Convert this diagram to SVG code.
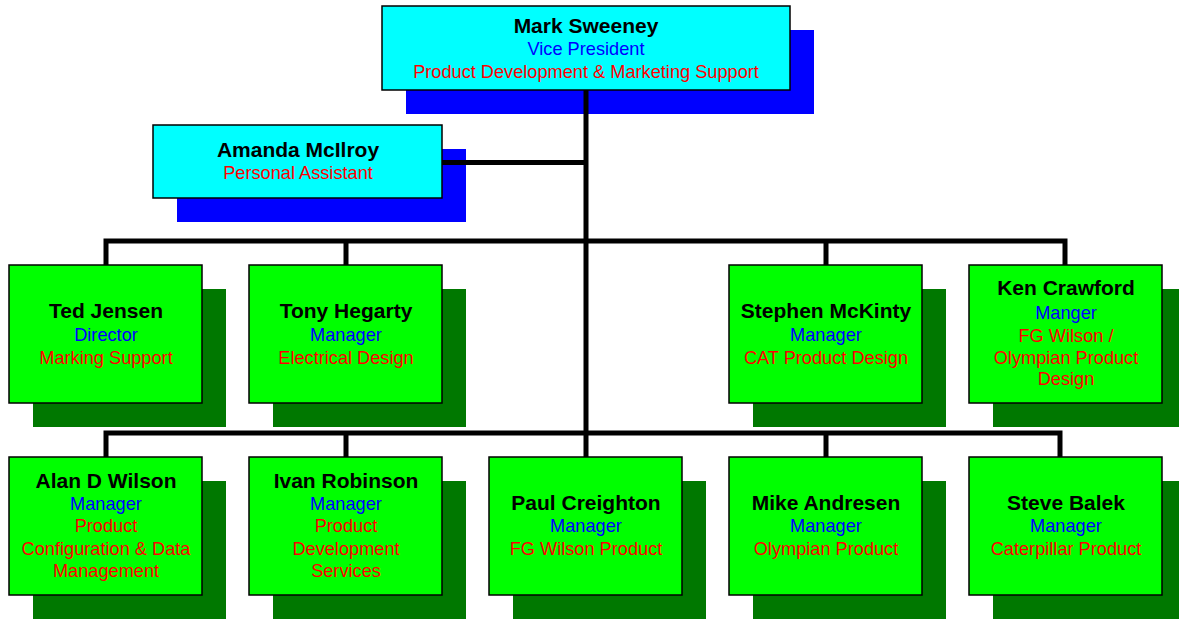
<svg xmlns="http://www.w3.org/2000/svg" width="1179" height="621" viewBox="0 0 1179 621">
<style>
.sb{fill:#0000ff}
.sg{fill:#007800}
.bc{fill:#00ffff;stroke:#000;stroke-width:1.5}
.bg{fill:#00ff00;stroke:#000;stroke-width:1.5}
text{font-family:"Liberation Sans",Arial,sans-serif;text-anchor:middle}
.n{font-size:21px;font-weight:bold;fill:#000}
.t{font-size:18.2px;fill:#0000ff}
.d{font-size:18.2px;fill:#ff0000}
.c{stroke:#000;stroke-width:5;fill:none;stroke-linejoin:miter}
</style>
<rect width="1179" height="621" fill="#fff"/>
<g id="mark">
<rect class="sb" x="406" y="30" width="408" height="84"/>
<rect class="bc" x="382" y="6" width="408" height="84"/>
<text class="n" x="586" y="33">Mark Sweeney</text>
<text class="t" x="586" y="55">Vice President</text>
<text class="d" x="586" y="78">Product Development &amp; Marketing Support</text>
</g>
<g id="amanda">
<rect class="sb" x="177" y="149" width="289" height="73"/>
<rect class="bc" x="153" y="125" width="289" height="73"/>
<text class="n" x="298" y="157">Amanda McIlroy</text>
<text class="d" x="298" y="179">Personal Assistant</text>
</g>
<g id="ted">
<rect class="sg" x="33" y="289" width="193" height="138"/>
<rect class="bg" x="9" y="265" width="193" height="138"/>
<text class="n" x="106" y="318">Ted Jensen</text>
<text class="t" x="106" y="341">Director</text>
<text class="d" x="106" y="364">Marking Support</text>
</g>
<g id="tony">
<rect class="sg" x="273" y="289" width="193" height="138"/>
<rect class="bg" x="249" y="265" width="193" height="138"/>
<text class="n" x="346" y="318">Tony Hegarty</text>
<text class="t" x="346" y="341">Manager</text>
<text class="d" x="346" y="364">Electrical Design</text>
</g>
<g id="stephen">
<rect class="sg" x="753" y="289" width="193" height="138"/>
<rect class="bg" x="729" y="265" width="193" height="138"/>
<text class="n" x="826" y="318">Stephen McKinty</text>
<text class="t" x="826" y="341">Manager</text>
<text class="d" x="826" y="364">CAT Product Design</text>
</g>
<g id="ken">
<rect class="sg" x="993" y="289" width="193" height="138"/>
<rect class="bg" x="969" y="265" width="193" height="138"/>
<text class="n" x="1066" y="295">Ken Crawford</text>
<text class="t" x="1066" y="319">Manger</text>
<text class="d" x="1066" y="342">FG Wilson /</text>
<text class="d" x="1066" y="364">Olympian Product</text>
<text class="d" x="1066" y="385">Design</text>
</g>
<g id="alan">
<rect class="sg" x="33" y="481" width="193" height="138"/>
<rect class="bg" x="9" y="457" width="193" height="138"/>
<text class="n" x="106" y="488">Alan D Wilson</text>
<text class="t" x="106" y="510">Manager</text>
<text class="d" x="106" y="532">Product</text>
<text class="d" x="106" y="555">Configuration &amp; Data</text>
<text class="d" x="106" y="577">Management</text>
</g>
<g id="ivan">
<rect class="sg" x="273" y="481" width="193" height="138"/>
<rect class="bg" x="249" y="457" width="193" height="138"/>
<text class="n" x="346" y="488">Ivan Robinson</text>
<text class="t" x="346" y="510">Manager</text>
<text class="d" x="346" y="532">Product</text>
<text class="d" x="346" y="555">Development</text>
<text class="d" x="346" y="577">Services</text>
</g>
<g id="paul">
<rect class="sg" x="513" y="481" width="193" height="138"/>
<rect class="bg" x="489" y="457" width="193" height="138"/>
<text class="n" x="586" y="510">Paul Creighton</text>
<text class="t" x="586" y="532">Manager</text>
<text class="d" x="586" y="555">FG Wilson Product</text>
</g>
<g id="mike">
<rect class="sg" x="753" y="481" width="193" height="138"/>
<rect class="bg" x="729" y="457" width="193" height="138"/>
<text class="n" x="826" y="510">Mike Andresen</text>
<text class="t" x="826" y="532">Manager</text>
<text class="d" x="826" y="555">Olympian Product</text>
</g>
<g id="steve">
<rect class="sg" x="993" y="481" width="193" height="138"/>
<rect class="bg" x="969" y="457" width="193" height="138"/>
<text class="n" x="1066" y="510">Steve Balek</text>
<text class="t" x="1066" y="532">Manager</text>
<text class="d" x="1066" y="555">Caterpillar Product</text>
</g>
<g id="connectors">
<path class="c" d="M586 90 V457"/>
<path class="c" d="M442 162.5 H586"/>
<path class="c" d="M106 265 V241 H1065 V265"/>
<path class="c" d="M346 241 V265 M826 241 V265"/>
<path class="c" d="M106 457 V433 H1060 V457"/>
<path class="c" d="M346 433 V457 M826 433 V457"/>
</g>
</svg>
